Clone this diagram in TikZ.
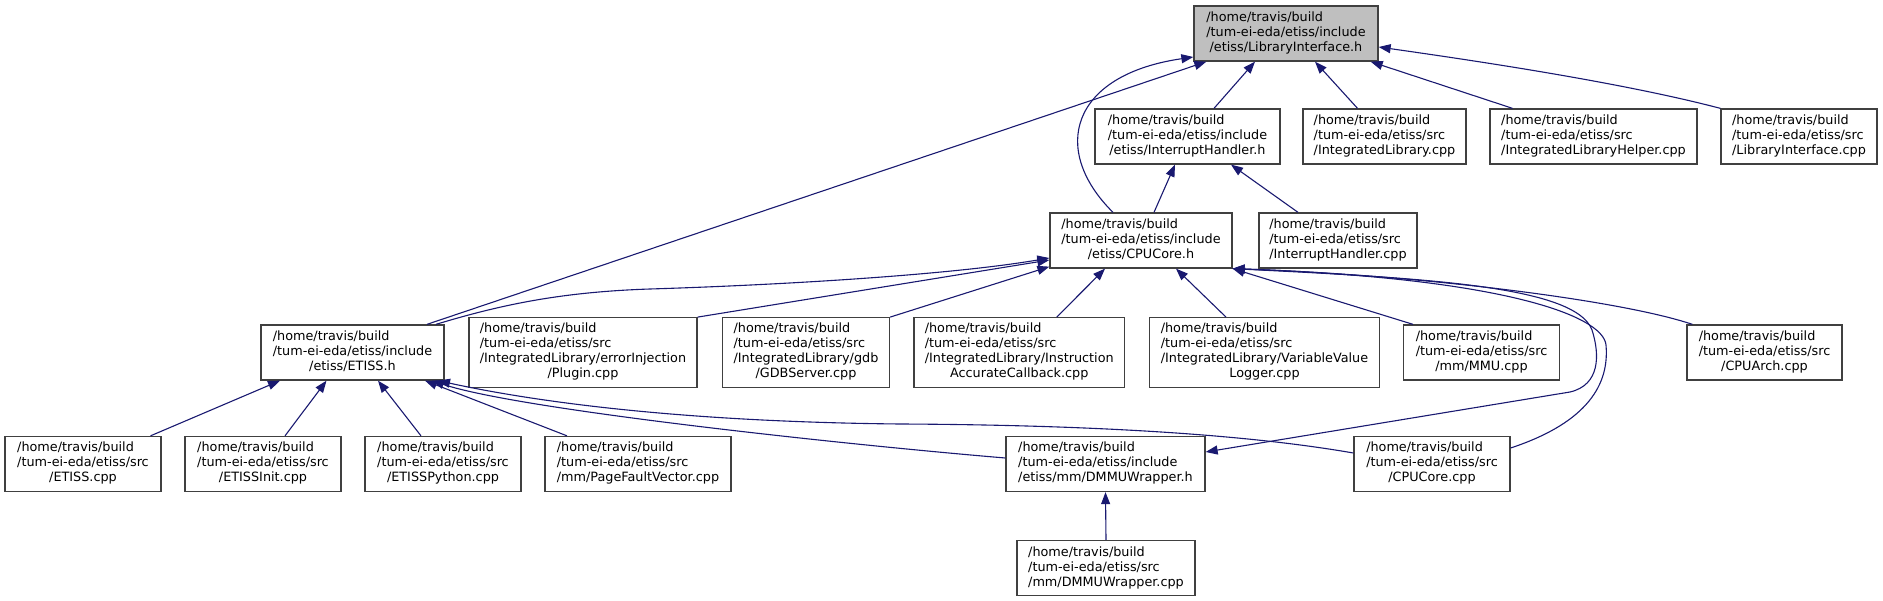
\documentclass[tikz,border=0pt]{standalone}
\usepackage{fontspec}
\setmainfont{DejaVu Sans}
\usetikzlibrary{arrows.meta}
\definecolor{edgeblue}{HTML}{191970}
\definecolor{boxline}{HTML}{404040}
\definecolor{rootfill}{HTML}{BFBFBF}
\newcommand{\dxthree}[3]{\begin{tabular}{@{}l@{}}#1\\#2\\\multicolumn{1}{@{}c@{}}{#3}\end{tabular}}
\newcommand{\dxfour}[4]{\begin{tabular}{@{}l@{}}#1\\#2\\#3\\\multicolumn{1}{@{}c@{}}{#4}\end{tabular}}
\newcommand{\hb}{/home/travis/build}
\newcommand{\inc}{/tum-ei-eda/etiss/include}
\newcommand{\src}{/tum-ei-eda/etiss/src}
\tikzset{
  filebox/.style={draw=boxline, fill=white, line width=1.3pt, inner sep=0pt,
    minimum height=55pt, font=\fontsize{12.8}{15}\selectfont, text=black},
  tallbox/.style={filebox, minimum height=69.5pt},
  dep/.style={draw=edgeblue, line width=1.1pt, -{Triangle[length=12pt,width=9pt]}},
}
\begin{document}
\begin{tikzpicture}[x=1pt, y=-1pt]
\useasboundingbox (0,0) rectangle (1883,601);
% row 0
\node[filebox, fill=rootfill, minimum width=184pt] (LI) at (1286,33.5) {\dxthree{\hb}{\inc}{/etiss/LibraryInterface.h}};
% row 1
\node[filebox, minimum width=185pt] (IH) at (1187.5,136.5) {\dxthree{\hb}{\inc}{/etiss/InterruptHandler.h}};
\node[filebox, minimum width=163pt] (ILib) at (1384.5,136.5) {\dxthree{\hb}{\src}{/IntegratedLibrary.cpp}};
\node[filebox, minimum width=207pt] (ILibH) at (1593.5,136.5) {\dxthree{\hb}{\src}{/IntegratedLibraryHelper.cpp}};
\node[filebox, minimum width=156pt] (LIcpp) at (1799,136.5) {\dxthree{\hb}{\src}{/LibraryInterface.cpp}};
% row 2
\node[filebox, minimum width=182pt] (CC) at (1141,240.5) {\dxthree{\hb}{\inc}{/etiss/CPUCore.h}};
\node[filebox, minimum width=158pt] (IHcpp) at (1338,240.5) {\dxthree{\hb}{\src}{/InterruptHandler.cpp}};
% row 3
\node[filebox, minimum width=183pt] (ETISSh) at (352.5,352.5) {\dxthree{\hb}{\inc}{/etiss/ETISS.h}};
\node[tallbox, minimum width=228pt] (Plugin) at (583,352.5) {\dxfour{\hb}{\src}{/IntegratedLibrary/errorInjection}{/Plugin.cpp}};
\node[tallbox, minimum width=167pt] (GDB) at (806,352.5) {\dxfour{\hb}{\src}{/IntegratedLibrary/gdb}{/GDBServer.cpp}};
\node[tallbox, minimum width=210.5pt] (IAC) at (1019.25,352.5) {\dxfour{\hb}{\src}{/IntegratedLibrary/Instruction}{AccurateCallback.cpp}};
\node[tallbox, minimum width=230pt] (VVL) at (1264.5,352.5) {\dxfour{\hb}{\src}{/IntegratedLibrary/VariableValue}{Logger.cpp}};
\node[filebox, minimum width=156pt] (MMU) at (1481.5,352.5) {\dxthree{\hb}{\src}{/mm/MMU.cpp}};
\node[filebox, minimum width=155pt] (CPUArch) at (1764.5,352.5) {\dxthree{\hb}{\src}{/CPUArch.cpp}};
% row 4
\node[filebox, minimum width=156pt] (ETISScpp) at (83,464) {\dxthree{\hb}{\src}{/ETISS.cpp}};
\node[filebox, minimum width=156pt] (ETISSInit) at (263,464) {\dxthree{\hb}{\src}{/ETISSInit.cpp}};
\node[filebox, minimum width=156pt] (ETISSPy) at (443,464) {\dxthree{\hb}{\src}{/ETISSPython.cpp}};
\node[filebox, minimum width=186pt] (PFV) at (638,464) {\dxthree{\hb}{\src}{/mm/PageFaultVector.cpp}};
\node[filebox, minimum width=199pt] (DMMUh) at (1105.5,464) {\dxthree{\hb}{\inc}{/etiss/mm/DMMUWrapper.h}};
\node[filebox, minimum width=156pt] (CPUCorecpp) at (1432,464) {\dxthree{\hb}{\src}{/CPUCore.cpp}};
% row 5
\node[filebox, minimum width=178pt] (DMMUcpp) at (1106,568) {\dxthree{\hb}{\src}{/mm/DMMUWrapper.cpp}};

% edges into LibraryInterface.h
\draw[dep] ([xshift=26.5pt]IH.north) -- ([xshift=-31pt]LI.south);
\draw[dep] ([xshift=-27pt]ILib.north) -- ([xshift=29pt]LI.south);
\draw[dep] ([xshift=-81pt]ILibH.north) -- ([xshift=-8pt]LI.south east);
\draw[dep] (LIcpp.north west) .. controls (1620,82) and (1470,60) .. ([yshift=-13.5pt]LI.east);
\draw[dep] ([xshift=74.5pt]ETISSh.north) -- ([xshift=13pt]LI.south west);
\draw[dep] ([xshift=-28pt]CC.north) .. controls (1050,150) and (1070,75) .. ([yshift=-23.5pt]LI.west);
% edges into InterruptHandler.h
\draw[dep] ([xshift=13pt]CC.north) -- ([xshift=-12.5pt]IH.south);
\draw[dep] ([xshift=-40pt]IHcpp.north) -- ([xshift=43.5pt]IH.south);
% edges into CPUCore.h
\draw[dep] ([xshift=83.5pt]ETISSh.north) .. controls (500,305) and (560,292) .. (650,289)
   .. controls (780,285) and (950,275) .. ([yshift=-17.5pt]CC.west);
\draw[dep] (Plugin.north east) -- ([yshift=-19.5pt]CC.west);
\draw[dep] (GDB.north east) -- ([yshift=2pt]CC.south west);
\draw[dep] ([xshift=37.5pt]IAC.north) -- ([xshift=-36pt]CC.south);
\draw[dep] ([xshift=-38.5pt]VVL.north) -- ([xshift=35pt]CC.south);
\draw[dep] ([xshift=-68.5pt]MMU.north) -- (CC.south east);
\draw[dep] ([xshift=6pt]CPUArch.north west) .. controls (1620,300) and (1420,275) .. (CC.south east);
\draw[dep] ([yshift=16pt]CPUCorecpp.east) .. controls (1580,425) and (1610,390) .. (1606,345)
   .. controls (1603,315) and (1500,278) .. (CC.south east);
% CPUCore.h -> DMMUWrapper.h loop
\draw[dep] (CC.south east) .. controls (1420,278) and (1575,285) .. (1592,330)
   .. controls (1600,355) and (1600,385) .. (1570,392) -- ([yshift=12pt]DMMUh.east);
% edges into ETISS.h
\draw[dep] ([xshift=67.5pt]ETISScpp.north) -- ([xshift=-72.5pt]ETISSh.south);
\draw[dep] ([xshift=22pt]ETISSInit.north) -- ([xshift=-26pt]ETISSh.south);
\draw[dep] ([xshift=-22pt]ETISSPy.north) -- ([xshift=25.5pt]ETISSh.south);
\draw[dep] ([xshift=-71pt]PFV.north) -- ([xshift=72.5pt]ETISSh.south);
\draw[dep] ([yshift=6pt]DMMUh.west) .. controls (850,445) and (520,410) .. ([xshift=79.5pt]ETISSh.south);
\draw[dep] ([yshift=11pt]CPUCorecpp.west) .. controls (1250,435) and (1100,425) .. (900,424)
   .. controls (700,422) and (550,405) .. ([xshift=85.5pt]ETISSh.south);
% DMMUWrapper.cpp -> DMMUWrapper.h
\draw[dep] (DMMUcpp.north) -- (DMMUh.south);
\end{tikzpicture}
\end{document}
